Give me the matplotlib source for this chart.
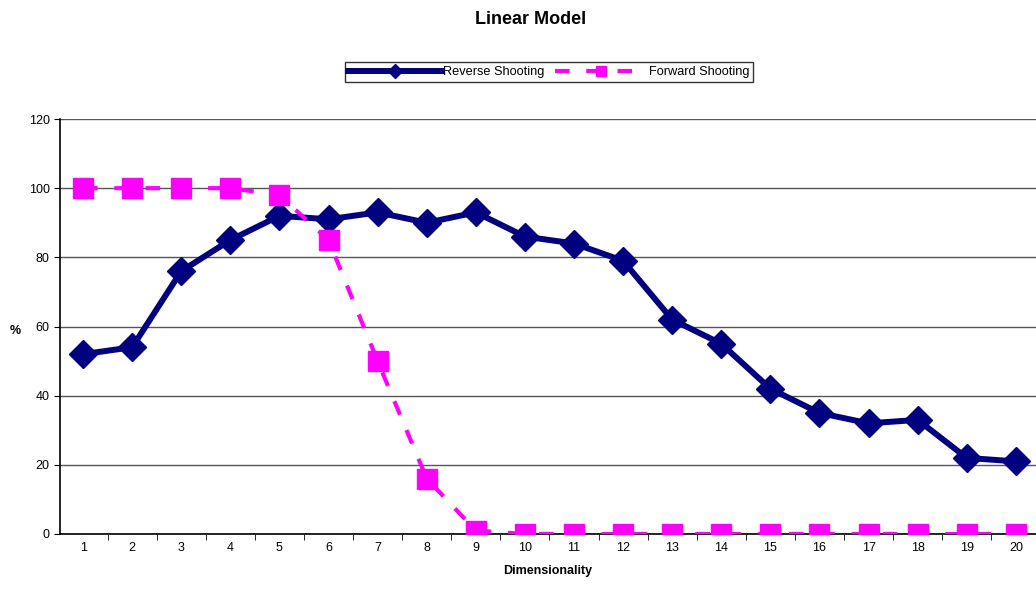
import matplotlib.pyplot as plt
import matplotlib.ticker as ticker
import numpy as np

plt.rcParams['font.family'] = ['Liberation Sans', 'DejaVu Sans']

dimensions = list(range(1, 21))
reverse_shooting = [52, 54, 76, 85, 92, 91, 93, 90, 93, 86,
                    84, 79, 62, 55, 42, 35, 32, 33, 22, 21]
forward_shooting = [100, 100, 100, 100, 98, 85, 50, 16, 1, 0,
                    0, 0, 0, 0, 0, 0, 0, 0, 0, 0]

navy = '#000080'
magenta = '#ff00ff'

fig = plt.figure(figsize=(10.36, 5.95), dpi=100)
ax = fig.add_axes([60 / 1036, 1 - 534 / 595, 1 - 60 / 1036, 415 / 595])

ax.plot(dimensions, reverse_shooting, color=navy, linewidth=4.3,
        marker='D', markersize=14.5, markeredgecolor=navy,
        label='Reverse Shooting', zorder=3)
ax.plot(dimensions, forward_shooting, color=magenta, linewidth=3,
        dashes=(3.5, 4), marker='s', markersize=14, markeredgecolor=magenta,
        label='Forward Shooting', zorder=4)

ax.set_ylim(0, 120)
ax.set_xlim(0.53, 20.41)
ax.yaxis.set_major_locator(ticker.MultipleLocator(20))
ax.set_xticks(dimensions)
ax.xaxis.set_minor_locator(ticker.FixedLocator(np.arange(0.5, 21, 1)))
ax.tick_params(axis='x', which='major', length=0, labelsize=9, pad=6)
ax.tick_params(axis='x', which='minor', length=4, direction='out')
ax.tick_params(axis='y', length=4, direction='out', labelsize=9)
ax.grid(axis='y', color='#555555', linewidth=1)
ax.set_axisbelow(True)

for side in ['top', 'right']:
    ax.spines[side].set_visible(False)
ax.spines['left'].set_linewidth(1.2)
ax.spines['bottom'].set_linewidth(1.2)
ax.spines['bottom'].set_zorder(2)

ax.set_xlabel('Dimensionality', fontsize=9, fontweight='bold', labelpad=8)
ax.set_ylabel('%', fontsize=9, fontweight='bold', rotation=0, va='center')
ax.yaxis.set_label_coords(-0.046, 0.49)

fig.text(0.512, 0.967, 'Linear Model', ha='center', va='center',
         fontsize=13, fontweight='bold')

leg = fig.legend(loc='center', bbox_to_anchor=(549 / 1036, 1 - 72 / 595),
                 ncol=2, fontsize=9.2, frameon=True, fancybox=False,
                 edgecolor='black', handlelength=7.3, handletextpad=0.1,
                 columnspacing=0.8, borderpad=0.3, markerscale=0.5)
leg.get_frame().set_linewidth(1)

fig.savefig('out.png', dpi=100)
